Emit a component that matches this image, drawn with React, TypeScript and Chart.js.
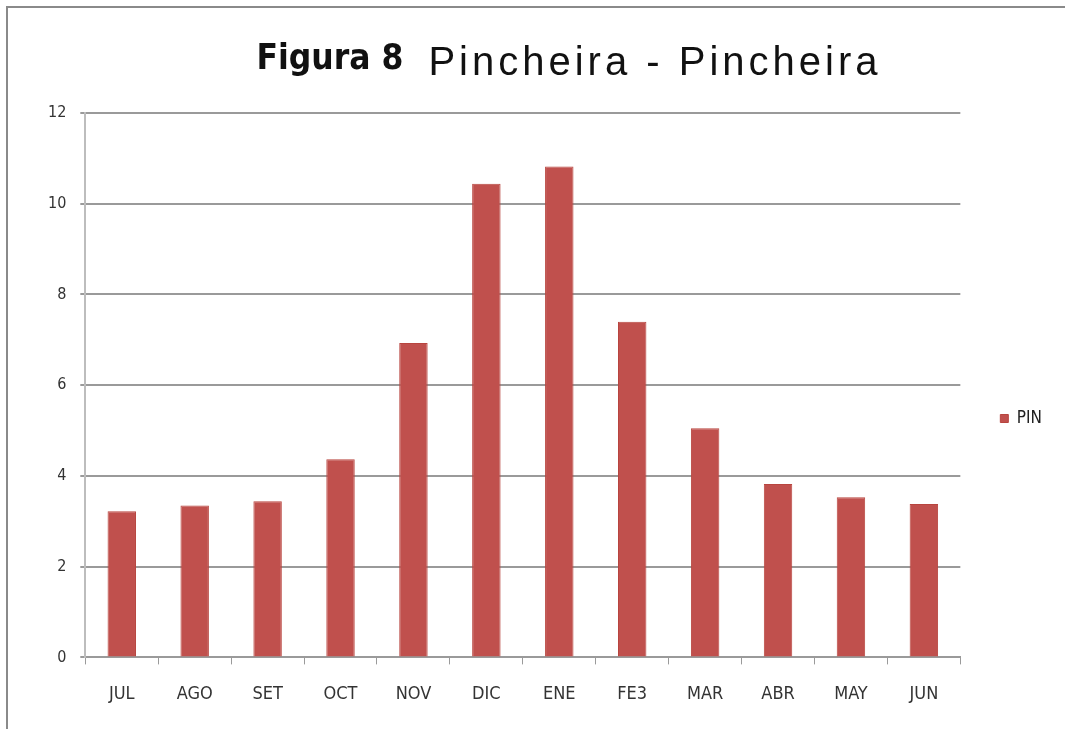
import React, { useEffect, useRef } from "react";
import { Chart, registerables } from "chart.js";

Chart.register(...registerables);

const categories = ["JUL", "AGO", "SET", "OCT", "NOV", "DIC", "ENE", "FEB", "MAR", "ABR", "MAY", "JUN"];
const tickLabels = ["JUL", "AGO", "SET", "OCT", "NOV", "DIC", "ENE", "FE3", "MAR", "ABR", "MAY", "JUN"];
const pinValues = [3.22, 3.35, 3.44, 4.37, 6.93, 10.44, 10.82, 7.4, 5.05, 3.82, 3.53, 3.38];
const seriesName = "PIN";
const titleBold = "Figura 8";
const titleMain = "Pincheira - Pincheira";

const narrow = '"Liberation Sans Narrow", "DejaVu Sans Condensed", "Liberation Sans", sans-serif';

const decorPlugin = {
  id: "decor",
  beforeDraw(chart: any) {
    const ctx = chart.ctx;
    ctx.save();
    ctx.fillStyle = "#ffffff";
    ctx.fillRect(0, 0, chart.width, chart.height);
    ctx.strokeStyle = "#8a8a8a";
    ctx.lineWidth = 2;
    ctx.beginPath();
    ctx.moveTo(7, chart.height);
    ctx.lineTo(7, 7);
    ctx.lineTo(chart.width, 7);
    ctx.stroke();
    ctx.restore();
  },
  afterDraw(chart: any) {
    const ctx = chart.ctx;
    ctx.save();
    ctx.textBaseline = "alphabetic";
    ctx.fillStyle = "#111111";
    (ctx as any).letterSpacing = "0px";
    ctx.font = 'bold 35px ' + narrow;
    const w1 = ctx.measureText(titleBold).width;
    ctx.font = '40px "Liberation Sans", sans-serif';
    (ctx as any).letterSpacing = "4px";
    const w2 = ctx.measureText(titleMain).width;
    const gap = 25;
    const total = w1 + gap + w2;
    const x0 = 569 - total / 2;
    (ctx as any).letterSpacing = "0px";
    ctx.font = 'bold 35px ' + narrow;
    ctx.fillText(titleBold, x0, 69);
    ctx.font = '40px "Liberation Sans", sans-serif';
    (ctx as any).letterSpacing = "4px";
    ctx.fillText(titleMain, x0 + w1 + gap, 75);
    ctx.restore();
  },
};

export default function App() {
  const ref = useRef<HTMLCanvasElement | null>(null);
  useEffect(() => {
    if (!ref.current) return;
    const chart = new Chart(ref.current, {
      type: "bar",
      data: {
        labels: tickLabels,
        datasets: [
          {
            label: seriesName,
            data: pinValues,
            backgroundColor: "#C0504D",
            borderColor: "#B8453F",
            borderWidth: 1,
            categoryPercentage: 1,
            barPercentage: 0.39,
          },
        ],
      },
      options: {
        animation: false,
        responsive: false,
        devicePixelRatio: 1,
        layout: { padding: { top: 113, left: 34, right: 13, bottom: 5 } },
        plugins: {
          title: { display: false },
          tooltip: { enabled: false },
          legend: {
            position: "right",
            labels: {
              boxWidth: 8,
              boxHeight: 8,
              padding: 40,
              color: "#222",
              font: { family: narrow, size: 17 },
            },
          },
        },
        scales: {
          x: {
            grid: {
              display: true,
              drawOnChartArea: false,
              drawTicks: true,
              tickLength: 7,
              offset: true,
              color: "#9a9a9a",
            },
            border: { display: true, color: "#9a9a9a", width: 2 },
            ticks: {
              color: "#333",
              padding: 19,
              maxRotation: 0,
              font: { family: narrow, size: 18 },
            },
          },
          y: {
            min: 0,
            max: 12,
            ticks: {
              stepSize: 2,
              color: "#333",
              padding: 14,
              font: { family: narrow, size: 16 },
            },
            grid: { color: "#9a9a9a", lineWidth: 2, tickLength: 5 },
            border: { display: true, color: "#bdbdbd", width: 2 },
          },
        },
      },
      plugins: [decorPlugin],
    });
    return () => chart.destroy();
  }, []);
  return (
    <div style={{ position: "fixed", left: 0, top: 0, width: 1065, height: 729 }}>
      <canvas ref={ref} width={1065} height={729} style={{ width: 1065, height: 729, display: "block" }} />
    </div>
  );
}
